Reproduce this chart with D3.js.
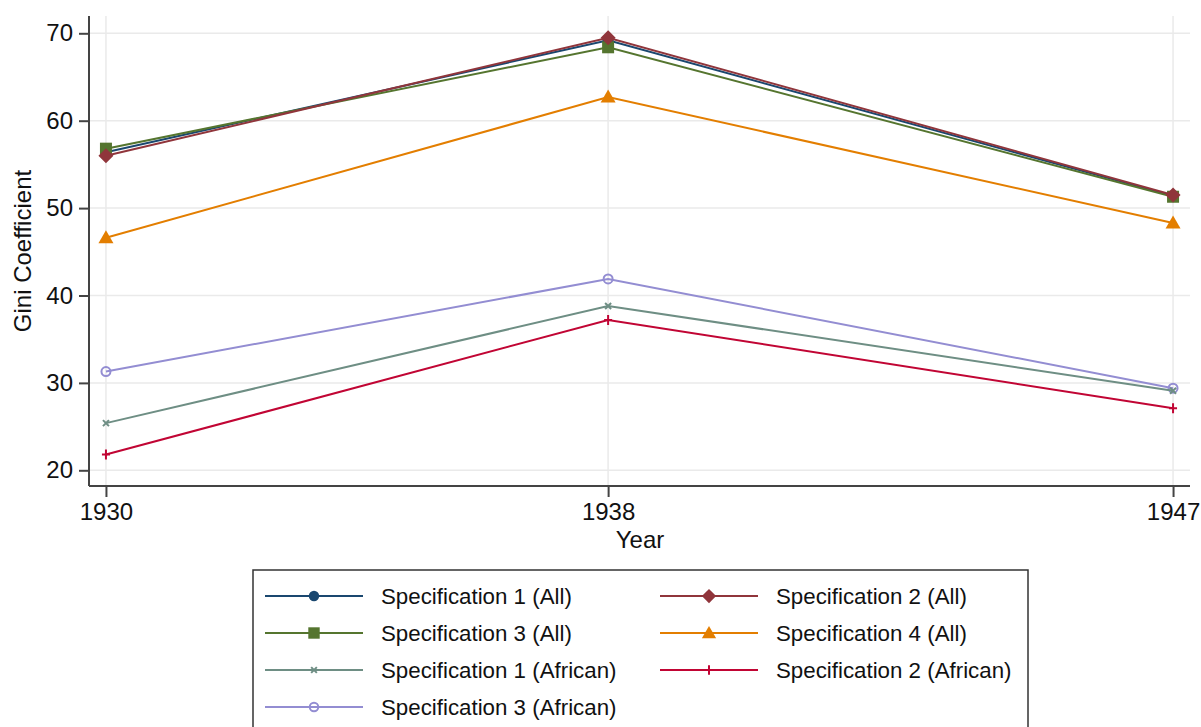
<!DOCTYPE html>
<html><head><meta charset="utf-8">
<script src="https://cdn.jsdelivr.net/npm/d3@7"></script>
<style>body{margin:0;background:#fff;} svg{display:block;font-family:"Liberation Sans",Arial,sans-serif;}</style>
</head><body>
<svg id="chart" width="1201" height="727"></svg>
<script>
const years = [1930, 1938, 1947];
const seriesNames = ["Specification 1 (All)","Specification 2 (All)","Specification 3 (All)","Specification 4 (All)","Specification 1 (African)","Specification 2 (African)","Specification 3 (African)"];
const spec1All = [56.4, 69.2, 51.4];
const spec2All = [56.0, 69.5, 51.5];
const spec3All = [56.8, 68.4, 51.3];
const spec4All = [46.6, 62.7, 48.3];
const spec1African = [25.4, 38.8, 29.1];
const spec2African = [21.8, 37.2, 27.1];
const spec3African = [31.3, 41.9, 29.4];
const yTicks = [20, 30, 40, 50, 60, 70];
const colors = ["#1a476f","#90353b","#55752f","#e37e00","#6e8e84","#c10534","#938dd2"];
const markers = ["circle","diamond","square","triangle","x","plus","ocircle"];
const allValues = [spec1All, spec2All, spec3All, spec4All, spec1African, spec2African, spec3African];

(function(){
const svg = d3.select("#chart");
const pLeft = 89, pRight = 1190, pTop = 16, pBottom = 486;
const x = d3.scaleLinear().domain([1929.73, 1947.27]).range([pLeft, pRight]);
const y = d3.scaleLinear().domain([20, 70]).range([470.3, 33.3]);

svg.append("g").selectAll("line").data(yTicks).join("line")
  .attr("x1", pLeft).attr("x2", pRight).attr("y1", d=>y(d)).attr("y2", d=>y(d))
  .attr("stroke", "#eaeaea").attr("stroke-width", 1.5);
svg.append("g").selectAll("line").data(years).join("line")
  .attr("x1", d=>x(d)).attr("x2", d=>x(d)).attr("y1", pTop).attr("y2", pBottom)
  .attr("stroke", "#eaeaea").attr("stroke-width", 1.5);

const yAxis = svg.append("g").attr("transform", `translate(${pLeft},0)`)
  .call(d3.axisLeft(y).tickValues(yTicks).tickSize(10).tickPadding(6));
yAxis.select(".domain").attr("d", `M0,${pTop}V${pBottom}`);
const xAxis = svg.append("g").attr("transform", `translate(0,${pBottom})`)
  .call(d3.axisBottom(x).tickValues(years).tickFormat(d3.format("d")).tickSize(11).tickPadding(6));
xAxis.select(".domain").attr("d", `M${pLeft},0H${pRight}`);
[yAxis, xAxis].forEach(a => {
  a.selectAll(".domain").attr("stroke", "#444").attr("stroke-width", 2);
  a.selectAll(".tick line").attr("stroke", "#444").attr("stroke-width", 2);
  a.selectAll(".tick text").attr("font-size", 24).attr("fill", "#111").attr("font-family", "Liberation Sans, Arial, sans-serif");
});

svg.append("text").attr("x", 640).attr("y", 548).attr("text-anchor", "middle")
  .attr("font-size", 24).attr("fill", "#111").text("Year");
svg.append("text").attr("transform", "translate(31,251) rotate(-90)").attr("text-anchor", "middle")
  .attr("font-size", 24).attr("fill", "#111").text("Gini Coefficient");

function drawMarker(g, type, cx, cy, color, scale) {
  const s = scale || 1;
  if (type === "circle") g.append("circle").attr("cx", cx).attr("cy", cy).attr("r", 5.5*s).attr("fill", color);
  else if (type === "ocircle") g.append("circle").attr("cx", cx).attr("cy", cy).attr("r", 4.5*s).attr("fill", "none").attr("stroke", color).attr("stroke-width", 2);
  else if (type === "square") g.append("rect").attr("x", cx-6*s).attr("y", cy-6*s).attr("width", 12*s).attr("height", 12*s).attr("fill", color);
  else if (type === "diamond") g.append("path").attr("d", `M${cx},${cy-7.5*s}L${cx+7.5*s},${cy}L${cx},${cy+7.5*s}L${cx-7.5*s},${cy}Z`).attr("fill", color);
  else if (type === "triangle") g.append("path").attr("d", `M${cx},${cy-7.5*s}L${cx+7.5*s},${cy+5.5*s}L${cx-7.5*s},${cy+5.5*s}Z`).attr("fill", color);
  else if (type === "x") g.append("path").attr("d", `M${cx-3*s},${cy-3*s}L${cx+3*s},${cy+3*s}M${cx+3*s},${cy-3*s}L${cx-3*s},${cy+3*s}`).attr("stroke", color).attr("stroke-width", 2);
  else if (type === "plus") g.append("path").attr("d", `M${cx-4*s},${cy}L${cx+4*s},${cy}M${cx},${cy-5*s}L${cx},${cy+5*s}`).attr("stroke", color).attr("stroke-width", 2);
}

const line = d3.line().x((d,i)=>x(years[i])).y(d=>y(d));
const order = [6,4,5,3,0,2,1];
order.forEach(k => {
  const g = svg.append("g");
  g.append("path").attr("d", line(allValues[k])).attr("fill", "none")
    .attr("stroke", colors[k]).attr("stroke-width", 2);
  allValues[k].forEach((v,i) => drawMarker(g, markers[k], x(years[i]), y(v), colors[k]));
});

const lg = svg.append("g");
lg.append("rect").attr("x", 253).attr("y", 570).attr("width", 775).attr("height", 170)
  .attr("fill", "#fff").attr("stroke", "#333").attr("stroke-width", 1.5);
seriesNames.forEach((name, k) => {
  const col = k % 2, row = Math.floor(k / 2);
  const x0 = col === 0 ? 265 : 660;
  const cy = 596 + row * 37;
  lg.append("line").attr("x1", x0).attr("x2", x0 + 98).attr("y1", cy).attr("y2", cy)
    .attr("stroke", colors[k]).attr("stroke-width", 2);
  drawMarker(lg, markers[k], x0 + 49, cy, colors[k], 0.95);
  lg.append("text").attr("x", x0 + 116).attr("y", cy + 8).attr("font-size", 22.3).attr("fill", "#111").text(name);
});
})();
</script>
</body></html>
